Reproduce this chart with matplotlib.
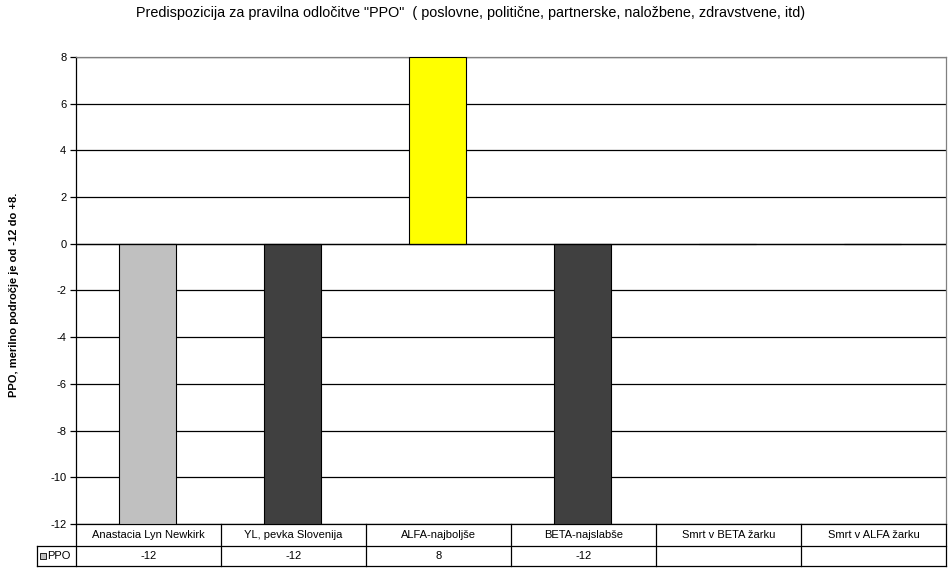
import numpy as np
import matplotlib
matplotlib.use("Agg")
import matplotlib.pyplot as plt
from matplotlib.transforms import blended_transform_factory
from matplotlib.lines import Line2D
from matplotlib.patches import Rectangle

plt.rcParams["font.family"] = ["Liberation Sans", "DejaVu Sans"]

categories = ["Anastacia Lyn Newkirk", "YL, pevka Slovenija", "ALFA-najboljše",
              "BETA-najslabše", "Smrt v BETA žarku", "Smrt v ALFA žarku"]
values = [-12, -12, 8, -12, np.nan, np.nan]
bar_colors = ["#C0C0C0", "#404040", "#FFFF00", "#404040", "#404040", "#404040"]
series_name = "PPO"
yticks = list(range(-12, 9, 2))

W, H = 953, 573
fig = plt.figure(figsize=(W / 100, H / 100), dpi=100)

# plot area in pixels
L, R, T, B = 76, 946, 57, 524
ax = fig.add_axes([L / W, (H - B) / H, (R - L) / W, (B - T) / H])

x = np.arange(len(categories))
ax.bar(x - 0.008, np.nan_to_num(values), width=0.39, color=bar_colors,
       edgecolor="black", linewidth=0.8, zorder=3)
ax.set_xlim(-0.5, len(categories) - 0.5)
ax.set_ylim(-12, 8)
ax.set_yticks(yticks)
ax.set_yticklabels([str(t) for t in yticks], fontsize=8)
ax.set_xticks([])
ax.grid(axis="y", color="black", linewidth=0.9, zorder=0)
ax.tick_params(axis="y", direction="out", length=4, width=0.9, pad=3)
ax.axhline(0, color="black", linewidth=0.9, zorder=4)
for s in ["top", "right"]:
    ax.spines[s].set_color("#808080")
    ax.spines[s].set_linewidth(0.9)
ax.spines["left"].set_linewidth(0.9)
ax.spines["bottom"].set_linewidth(0.9)

ax.set_ylabel("PPO, merilno področje je od -12 do +8.", fontsize=8, fontweight="bold")
ax.yaxis.set_label_coords(-0.066, 0.49)

fig.text(471 / W, 1 - 13 / H,
         'Predispozicija za pravilna odločitve "PPO"  ( poslovne, politične, partnerske, naložbene, zdravstvene, itd)',
         ha="center", va="center", fontsize=10.4)

# data table below the plot
tr = blended_transform_factory(ax.transData, ax.transAxes)
px = 1 / (B - T)
row1_bot = -22 * px
row2_bot = -42 * px
for b in np.arange(len(categories) + 1) - 0.5:
    ax.add_line(Line2D([b, b], [0, row2_bot], transform=tr, color="black",
                       linewidth=0.9, clip_on=False))
legend_left = (37 - L) / (R - L)
for yy in [row1_bot, row2_bot]:
    ax.add_line(Line2D([legend_left, 1], [yy, yy], transform=ax.transAxes,
                       color="black", linewidth=0.9, clip_on=False))
ax.add_line(Line2D([legend_left, legend_left], [row1_bot, row2_bot], transform=ax.transAxes,
                   color="black", linewidth=0.9, clip_on=False))
for i, (c, v) in enumerate(zip(categories, values)):
    ax.text(i, row1_bot / 2, c, transform=tr, ha="center", va="center", fontsize=8)
    if not np.isnan(v):
        ax.text(i, (row1_bot + row2_bot) / 2, str(int(v)), transform=tr,
                ha="center", va="center", fontsize=8)
ax.add_patch(Rectangle(((40 - L) / (R - L), (row1_bot + row2_bot) / 2 - 3 * px),
                       6 / (R - L), 6 * px, transform=ax.transAxes,
                       facecolor=bar_colors[0], edgecolor="black", linewidth=0.6,
                       clip_on=False))
ax.text((47 - L) / (R - L), (row1_bot + row2_bot) / 2, series_name, transform=ax.transAxes,
        ha="left", va="center", fontsize=8)

fig.savefig("out.png", dpi=100)
